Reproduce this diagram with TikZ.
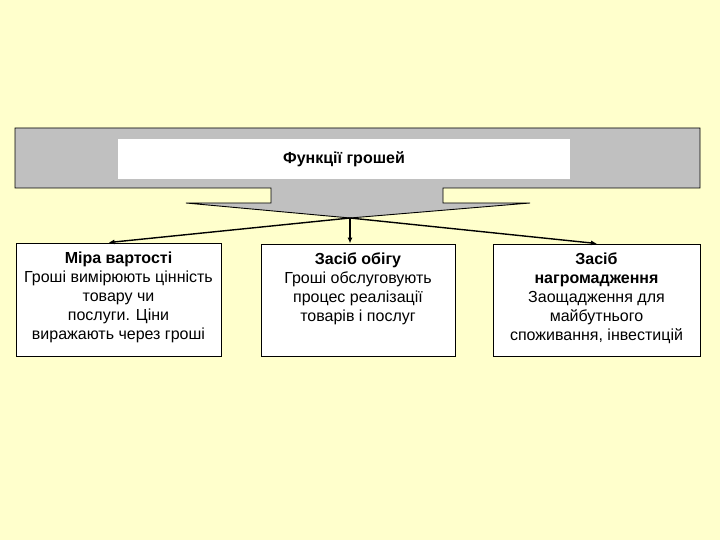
\documentclass[tikz,border=0pt]{standalone}
\usepackage{fontspec}
\setmainfont{Liberation Sans}
\usetikzlibrary{arrows.meta}
\definecolor{bgyellow}{HTML}{FFFFCC}
\definecolor{bandgray}{HTML}{C0C0C0}
\begin{document}
\begin{tikzpicture}[x=1pt,y=-1pt,
  outline/.style={draw=black,line width=0.9pt},
  fbox/.style={outline,fill=white,rectangle,inner sep=0pt},
  boxtxt/.style={anchor=north,align=center,inner xsep=2pt,inner ysep=9.5pt,
     font=\fontsize{16}{19}\selectfont},
  arr/.style={draw=black,line width=1.4pt,-{Latex[length=6pt,width=5pt]}}]
\fill[bgyellow] (0,0) rectangle (720,540);
\useasboundingbox (0,0) rectangle (720,540);
% banner with funnel
\draw[outline,fill=bandgray] (15,128) -- (700,128) -- (700,188) -- (443,188)
  -- (443,203) -- (530,203) -- (350,218) -- (186,203) -- (271,203)
  -- (271,188) -- (15,188) -- cycle;
\node[fill=white,minimum width=452pt,minimum height=40pt,inner sep=0pt,
  font=\fontsize{16}{18}\selectfont\bfseries] (title) at (344,159) {Функції грошей};
\coordinate (apex) at (350,218);
% boxes
\node[fbox,minimum width=205pt,minimum height=113pt] (b1) at (118.5,299.5) {};
\node[fbox,minimum width=194pt,minimum height=112pt] (b2) at (358,300) {};
\node[fbox,minimum width=207pt,minimum height=112pt] (b3) at (596.5,300) {};
\node[boxtxt] (t1) at (b1.north) {\textbf{Міра вартості}\\Гроші вимірюють цінність\\товару чи\\послуги. Ціни\\виражають через гроші};
\node[boxtxt] (t2) at (b2.north) {\textbf{Засіб обігу}\\Гроші обслуговують\\процес реалізації\\товарів і послуг};
\node[boxtxt] (t3) at (b3.north) {\textbf{Засіб}\\\textbf{нагромадження}\\Заощадження для\\майбутнього\\споживання, інвестицій};
% arrows
\draw[arr] (apex) -- ([xshift=-10pt]b1.north);
\draw[arr] (apex) -- (b2.north -| apex);
\draw[arr] (apex) -- ([xshift=0.5pt]b3.north);
\end{tikzpicture}
\end{document}
